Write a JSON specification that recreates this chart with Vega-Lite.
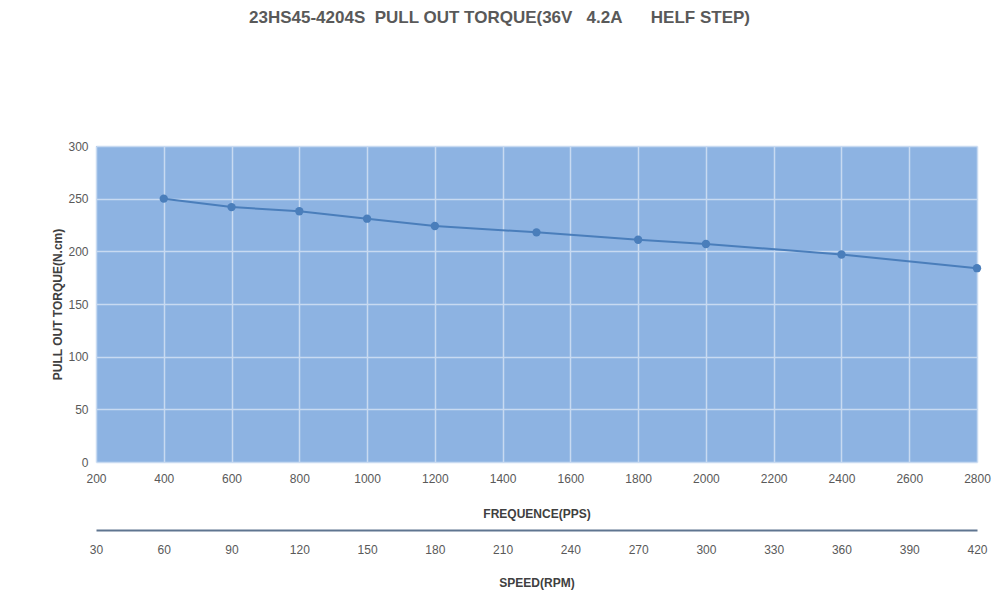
{
  "$schema": "https://vega.github.io/schema/vega-lite/v6.json",
  "width": 881,
  "height": 316,
  "autosize": {"type": "none"},
  "padding": {"left": 96, "top": 146, "right": 23, "bottom": 138},
  "background": "white",
  "config": {
    "font": "Liberation Sans",
    "view": {"fill": "#8db3e2", "stroke": null},
    "axis": {"labelColor": "#595959", "labelFontSize": 12, "titleColor": "#404040", "titleFontSize": 12, "titleFontWeight": "bold", "ticks": false, "domain": false, "labelFlush": false, "format": "d"}
  },
  "title": {
    "text": "23HS45-4204S\u00a0\u00a0PULL OUT TORQUE(36V\u00a0\u00a0\u00a04.2A\u00a0\u00a0\u00a0\u00a0\u00a0\u00a0HELF STEP)",
    "fontSize": 17,
    "fontWeight": "bold",
    "color": "#595959",
    "anchor": "middle",
    "dx": -37,
    "offset": 113
  },
  "layer": [
    {
      "data": {"values": [
        {"pps": 400, "torque": 250},
        {"pps": 600, "torque": 242},
        {"pps": 800, "torque": 238},
        {"pps": 1000, "torque": 231},
        {"pps": 1200, "torque": 224},
        {"pps": 1500, "torque": 218},
        {"pps": 1800, "torque": 211},
        {"pps": 2000, "torque": 207},
        {"pps": 2400, "torque": 197},
        {"pps": 2800, "torque": 184}
      ]},
      "mark": {"type": "line", "color": "#4a7ebb", "strokeWidth": 2, "point": {"filled": true, "size": 70, "color": "#4a7ebb"}},
      "encoding": {
        "x": {
          "field": "pps", "type": "quantitative",
          "scale": {"domain": [200, 2800], "nice": false, "zero": false},
          "axis": {"values": [200,400,600,800,1000,1200,1400,1600,1800,2000,2200,2400,2600,2800], "title": "FREQUENCE(PPS)", "grid": true, "gridColor": "#c8daf1", "gridWidth": 1.5, "labelPadding": 11, "titlePadding": 24}
        },
        "y": {
          "field": "torque", "type": "quantitative",
          "scale": {"domain": [0, 300], "nice": false},
          "axis": {"values": [0,50,100,150,200,250,300], "title": "PULL OUT TORQUE(N.cm)", "grid": true, "gridColor": "#c8daf1", "gridWidth": 1.5, "labelPadding": 8, "titlePadding": 3}
        }
      }
    },
    {
      "data": {"values": [{"rpm": 30}, {"rpm": 420}]},
      "mark": {"type": "point", "opacity": 0},
      "encoding": {
        "x": {
          "field": "rpm", "type": "quantitative",
          "scale": {"domain": [30, 420], "nice": false, "zero": false},
          "axis": {"orient": "bottom", "offset": 68, "values": [30,60,90,120,150,180,210,240,270,300,330,360,390,420], "title": "SPEED(RPM)", "grid": false, "domain": true, "domainColor": "#5f7590", "domainWidth": 2, "labelPadding": 14, "titlePadding": 22}
        }
      }
    }
  ],
  "resolve": {"scale": {"x": "independent"}, "axis": {"x": "independent"}}
}
